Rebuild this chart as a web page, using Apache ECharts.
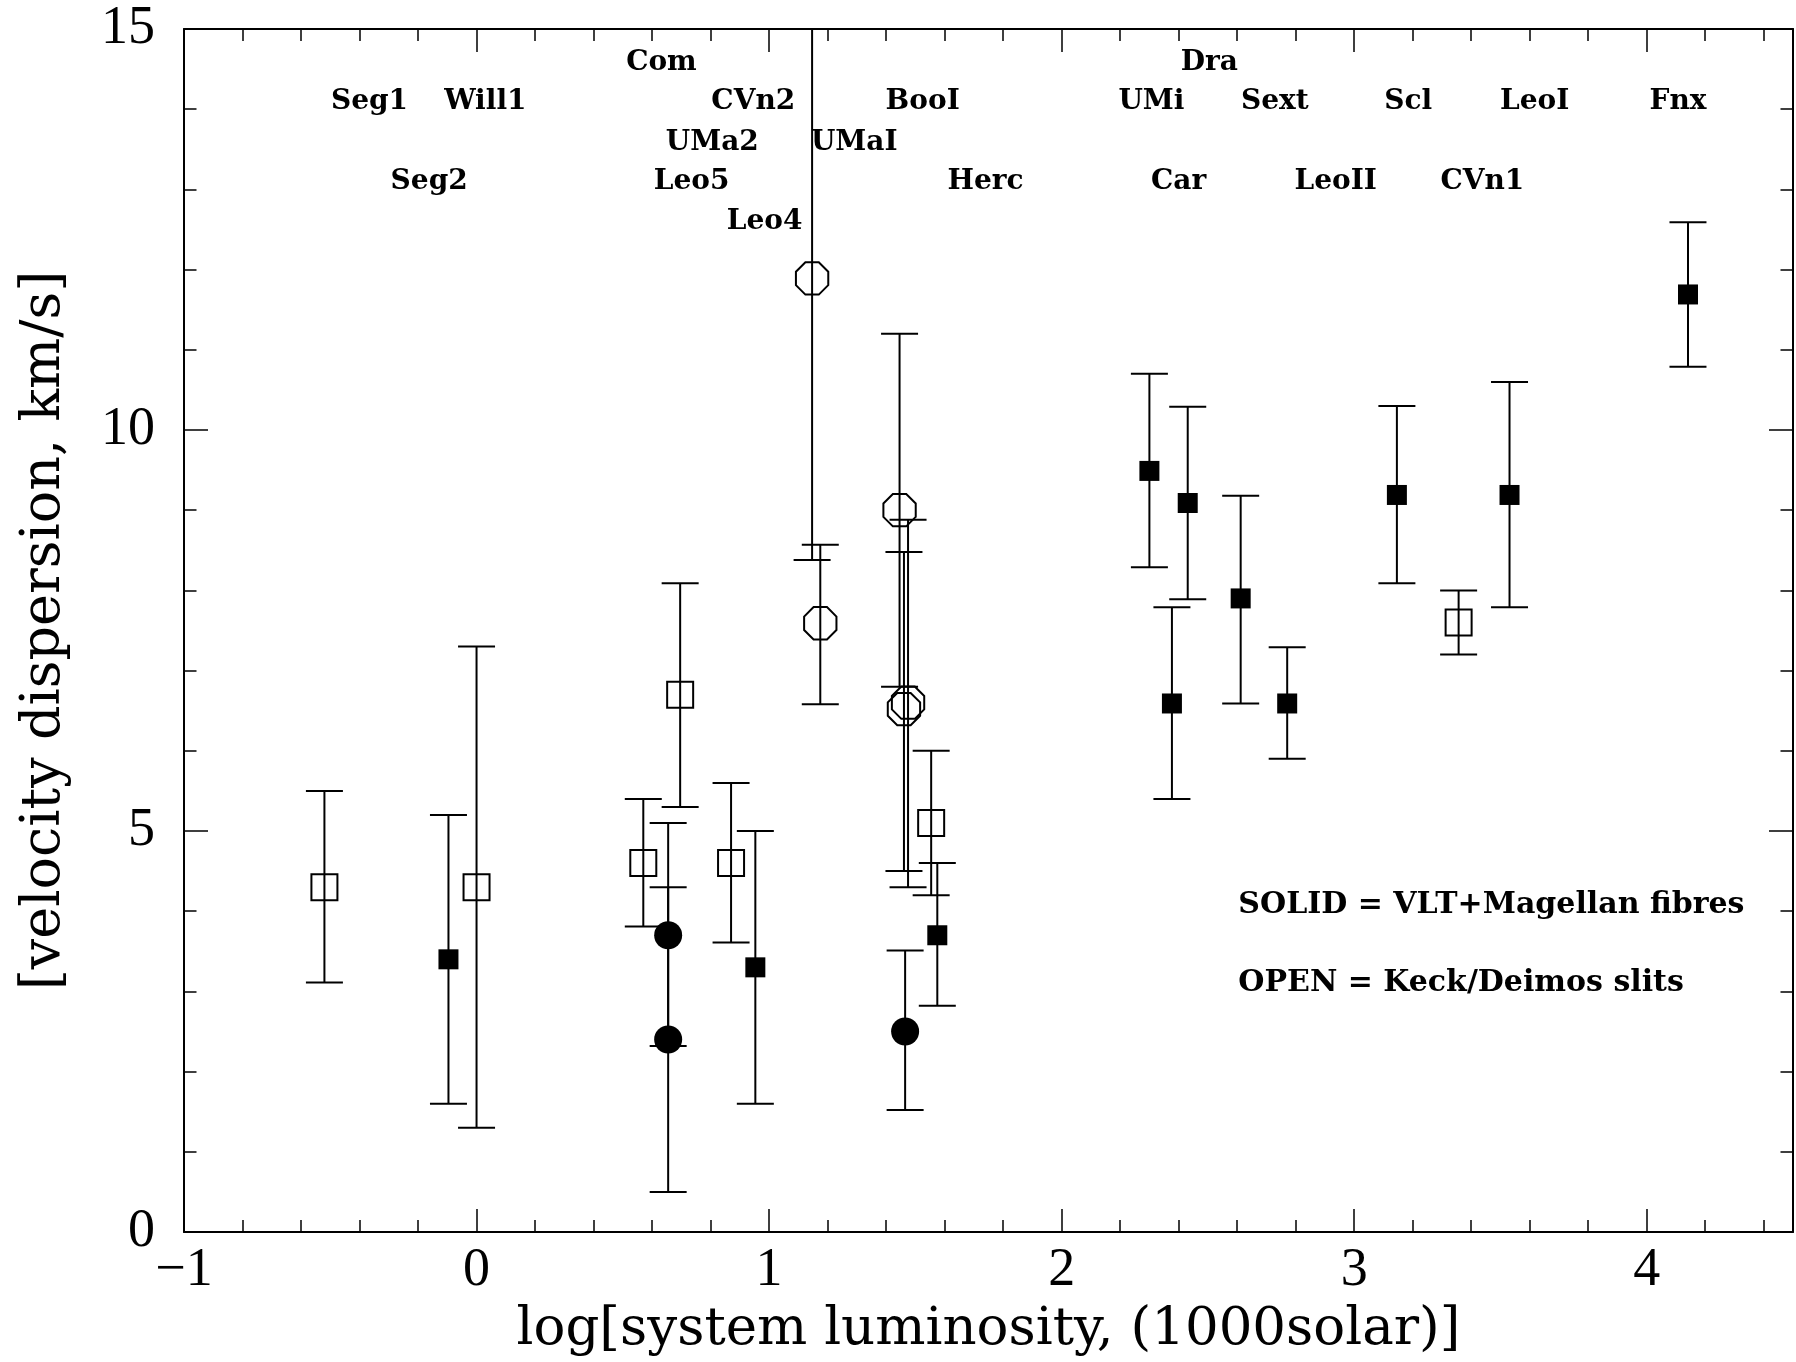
<!DOCTYPE html>
<html><head><meta charset="utf-8">
<script src="https://cdn.jsdelivr.net/npm/echarts@6/dist/echarts.min.js"></script>
<style>html,body{margin:0;padding:0;background:#fff}#c{width:1796px;height:1362px}</style>
</head><body><div id="c"></div>
<script>
// ---- data: [x, y, low, high] ----
const xTickLabels = [-1, 0, 1, 2, 3, 4];
const yTickLabels = [0, 5, 10, 15];

// OPEN squares = Keck/Deimos slits
const keckSquares = [
  [-0.52, 4.30, 3.11, 5.50],
  [0.00, 4.30, 1.30, 7.30],
  [0.57, 4.60, 3.81, 5.40],
  [0.696, 6.70, 5.30, 8.09],
  [0.87, 4.60, 3.61, 5.60],
  [1.554, 5.10, 4.20, 6.00],
  [3.357, 7.60, 7.20, 8.00]
];
// OPEN circles = Keck/Deimos slits
const keckCircles = [
  [1.147, 11.89, 8.38, 15.40],
  [1.175, 7.59, 6.58, 8.57],
  [1.446, 9.00, 6.80, 11.20],
  [1.461, 6.52, 4.50, 8.48],
  [1.475, 6.60, 4.30, 8.88]
];
// SOLID squares = VLT+Magellan fibres
const vltSquares = [
  [-0.096, 3.40, 1.60, 5.20],
  [0.953, 3.30, 1.60, 5.00],
  [1.575, 3.70, 2.82, 4.60],
  [2.300, 9.49, 8.29, 10.70],
  [2.377, 6.59, 5.40, 7.79],
  [2.431, 9.09, 7.89, 10.29],
  [2.612, 7.90, 6.59, 9.18],
  [2.771, 6.59, 5.90, 7.29],
  [3.146, 9.19, 8.09, 10.30],
  [3.531, 9.19, 7.79, 10.60],
  [4.141, 11.69, 10.79, 12.59]
];
// SOLID circles = VLT+Magellan fibres
const vltCircles = [
  [0.655, 3.70, 2.32, 5.10],
  [0.655, 2.40, 0.50, 4.30],
  [1.465, 2.50, 1.52, 3.51]
];

// galaxy name labels
const galaxyNames = ['Com','Dra','Seg1','Will1','CVn2','BooI','UMi','Sext','Scl','LeoI','Fnx',
                     'UMa2','UMaI','Seg2','Leo5','Herc','Car','LeoII','CVn1','Leo4'];
const galaxyX = [0.632, 2.505, -0.366, 0.030, 0.946, 1.525, 2.307, 2.729, 3.185, 3.617, 4.107,
                 0.806, 1.291, -0.162, 0.735, 1.740, 2.400, 2.937, 3.438, 0.985];
const galaxyY = [14.58, 14.58, 14.09, 14.09, 14.09, 14.09, 14.09, 14.09, 14.09, 14.09, 14.09,
                 13.58, 13.58, 13.10, 13.10, 13.10, 13.10, 13.10, 13.10, 12.60];

const noteTexts = ['SOLID = VLT+Magellan fibres', 'OPEN = Keck/Deimos slits'];
const noteX = [2.604, 2.604];
const noteY = [4.08, 3.10];

const xTitle = 'log[system luminosity, (1000solar)]';
const yTitle = '[velocity dispersion, km/s]';

// ---- rendering ----
const chart = echarts.init(document.getElementById('c'), null, {renderer: 'canvas'});
const BLACK = '#000';
const CAP = 18.5;

function octagonPoints(cx, cy, R) {
  const pts = [];
  for (let k = 0; k < 8; k++) {
    const a = (22.5 + 45 * k) * Math.PI / 180;
    pts.push([cx + R * Math.cos(a), cy + R * Math.sin(a)]);
  }
  return pts;
}

function makeRender(kind) {
  return function (params, api) {
    const x = api.value(0), y = api.value(1), lo = api.value(2), hi = api.value(3);
    const c = api.coord([x, y]), a = api.coord([x, lo]), b = api.coord([x, hi]);
    const st = {stroke: BLACK, lineWidth: 2, fill: null};
    const children = [
      {type: 'line', shape: {x1: c[0], y1: a[1], x2: c[0], y2: b[1]}, style: st},
      {type: 'line', shape: {x1: c[0] - CAP, y1: a[1], x2: c[0] + CAP, y2: a[1]}, style: st},
      {type: 'line', shape: {x1: c[0] - CAP, y1: b[1], x2: c[0] + CAP, y2: b[1]}, style: st}
    ];
    if (kind === 'openSquare') {
      children.push({type: 'rect', shape: {x: c[0] - 13, y: c[1] - 13, width: 26, height: 26},
        style: {stroke: BLACK, lineWidth: 2, fill: null}});
    } else if (kind === 'solidSquare') {
      children.push({type: 'rect', shape: {x: c[0] - 10, y: c[1] - 10, width: 20, height: 20},
        style: {fill: BLACK}});
    } else if (kind === 'solidCircle') {
      children.push({type: 'circle', shape: {cx: c[0], cy: c[1], r: 14}, style: {fill: BLACK}});
    } else if (kind === 'openCircle') {
      children.push({type: 'polygon', shape: {points: octagonPoints(c[0], c[1], 17.5)},
        style: {stroke: BLACK, lineWidth: 2, fill: null}});
    }
    return {type: 'group', children};
  };
}

function textRender(names, font, align) {
  return function (params, api) {
    const p = api.coord([api.value(0), api.value(1)]);
    return {type: 'text', x: p[0], y: p[1],
      style: {text: names[params.dataIndex], font: font, fill: BLACK,
              align: align, verticalAlign: 'middle'}};
  };
}

function fmtTick(v) {
  if (!xTickLabels.includes(v)) return '';
  return v < 0 ? '\u2212' + Math.abs(v) : String(v);
}

const tickFont = {fontFamily: 'Liberation Serif', fontSize: 54, color: BLACK};
const lineSt = {color: BLACK, width: 2};
const tickSt = {color: BLACK, width: 1.5};

function xAx(pos, interval, len, showLine, showLabel) {
  const ax = {
    type: 'value', position: pos, min: -1, max: 4.5, interval: interval,
    axisLine: {show: showLine, onZero: false, lineStyle: lineSt},
    axisTick: {show: true, inside: true, length: len, lineStyle: tickSt},
    axisLabel: {show: showLabel, margin: 12, formatter: fmtTick, ...tickFont},
    splitLine: {show: false}
  };
  if (showLabel) {
    ax.name = xTitle;
    ax.nameLocation = 'middle';
    ax.nameGap = 72;
    ax.nameTextStyle = {fontFamily: 'DejaVu Serif', fontSize: 53, color: BLACK};
  }
  return ax;
}
function yAx(pos, showLabel) {
  const ax = {
    type: 'value', position: pos, min: 0, max: 15, interval: 5,
    axisLine: {show: true, onZero: false, lineStyle: lineSt},
    axisTick: {show: true, inside: true, length: 24, lineStyle: tickSt},
    minorTick: {show: true, splitNumber: 5, length: 12.5, lineStyle: tickSt},
    axisLabel: {show: showLabel, margin: 29, formatter: v => yTickLabels.includes(v) ? String(v) : '', ...tickFont},
    splitLine: {show: false}, minorSplitLine: {show: false}
  };
  if (showLabel) {
    ax.name = yTitle;
    ax.nameLocation = 'middle';
    ax.nameGap = 112;
    ax.nameTextStyle = {fontFamily: 'DejaVu Serif', fontSize: 54, color: BLACK};
  }
  return ax;
}

const option = {
  animation: false,
  backgroundColor: '#fff',
  grid: {left: 184, right: 2, top: 29, bottom: 128, containLabel: false},
  xAxis: [
    xAx('bottom', 1, 23, true, true),
    xAx('bottom', 0.2, 12, false, false),
    xAx('top', 1, 23, true, false),
    xAx('top', 0.2, 12, false, false)
  ],
  yAxis: [yAx('left', true), yAx('right', false)],
  series: [
    {type: 'custom', name: 'Keck squares', renderItem: makeRender('openSquare'), data: keckSquares, clip: true, xAxisIndex: 0, yAxisIndex: 0},
    {type: 'custom', name: 'Keck circles', renderItem: makeRender('openCircle'), data: keckCircles, clip: true, xAxisIndex: 0, yAxisIndex: 0},
    {type: 'custom', name: 'VLT squares', renderItem: makeRender('solidSquare'), data: vltSquares, clip: true, xAxisIndex: 0, yAxisIndex: 0},
    {type: 'custom', name: 'VLT circles', renderItem: makeRender('solidCircle'), data: vltCircles, clip: true, xAxisIndex: 0, yAxisIndex: 0},
    {type: 'custom', name: 'names', renderItem: textRender(galaxyNames, 'bold 28px "DejaVu Serif"', 'center'),
      data: galaxyX.map((x, i) => [x, galaxyY[i]]), clip: false, xAxisIndex: 0, yAxisIndex: 0},
    {type: 'custom', name: 'notes', renderItem: textRender(noteTexts, 'bold 30px "DejaVu Serif"', 'left'),
      data: noteX.map((x, i) => [x, noteY[i]]), clip: false, xAxisIndex: 0, yAxisIndex: 0}
  ]
};
chart.setOption(option);
</script>
</body></html>
